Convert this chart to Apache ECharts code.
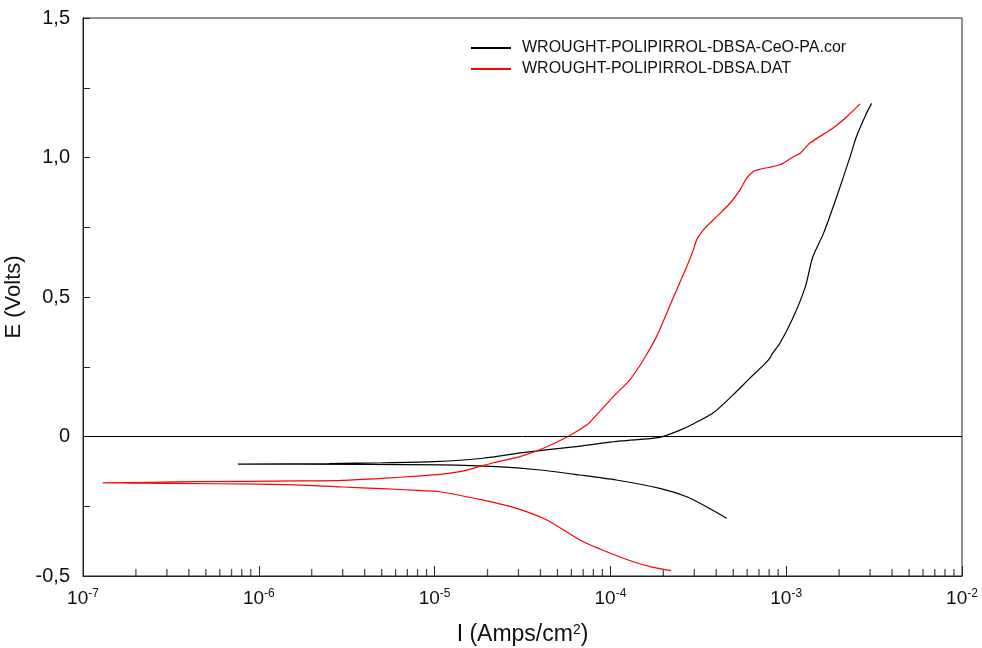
<!DOCTYPE html>
<html>
<head>
    <meta charset="utf-8">
    <script src="https://cdn.jsdelivr.net/npm/echarts@6/dist/echarts.min.js"></script>
</head>
<style>
    *{
        margin:0;
        padding:0;
    }
    body{
        background:#fff;
    }
</style>
<body>
<div id="main" style="width:982px;height:648px;"></div>
<script type="text/javascript">
    // curves: current (A/cm2) and potential (V), in scan order
    var nameBlack = 'WROUGHT-POLIPIRROL-DBSA-CeO-PA.cor';
    var currentBlack = [4.58e-4, 3.52e-4, 2.72e-4, 1.91e-4, 1.08e-4, 6.71e-5, 3.98e-5, 2.25e-5, 1.07e-5, 3.98e-6, 7.62e-7,
        2.51e-6, 5.0e-6, 1.0e-5, 1.89e-5, 3.18e-5, 6.17e-5, 1.15e-4, 1.91e-4, 2.49e-4, 2.96e-4, 3.85e-4, 5.0e-4,
        6.22e-4, 7.6e-4, 8.09e-4, 8.3e-4, 9.23e-4, 1.10e-3, 1.29e-3, 1.41e-3, 1.63e-3, 1.94e-3, 2.31e-3, 2.51e-3, 2.82e-3, 3.06e-3];
    var potentialBlack = [-0.293, -0.252, -0.216, -0.186, -0.156, -0.138, -0.120, -0.108, -0.102, -0.100, -0.099,
        -0.097, -0.094, -0.090, -0.078, -0.058, -0.037, -0.016, -0.003, 0.023, 0.045, 0.085, 0.150,
        0.209, 0.262, 0.282, 0.295, 0.335, 0.429, 0.540, 0.640, 0.728, 0.860, 1.003, 1.075, 1.150, 1.194];

    var nameRed = 'WROUGHT-POLIPIRROL-DBSA.DAT';
    var currentRed = [2.21e-4, 1.75e-4, 1.35e-4, 9.53e-5, 6.71e-5, 4.35e-5, 2.81e-5, 1.89e-5, 1.07e-5, 7.94e-6, 5.02e-6,
        3.01e-6, 1.95e-6, 1.0e-6, 3.16e-7, 1.30e-7,
        2.51e-7, 4.23e-7, 1.71e-6, 3.01e-6, 5.02e-6, 7.94e-6, 1.07e-5, 1.39e-5, 1.66e-5, 2.16e-5, 3.06e-5, 4.16e-5,
        5.77e-5, 7.33e-5, 8.0e-5, 1.04e-4, 1.29e-4, 1.54e-4, 1.83e-4, 2.09e-4, 2.38e-4, 2.72e-4, 2.96e-4, 3.09e-4,
        3.37e-4, 4.02e-4, 4.79e-4, 5.46e-4, 5.96e-4, 6.50e-4, 7.10e-4, 9.23e-4, 1.10e-3, 1.20e-3, 1.36e-3, 1.85e-3, 2.21e-3, 2.63e-3];
    var potentialRed = [-0.481, -0.469, -0.449, -0.413, -0.371, -0.299, -0.254, -0.228, -0.198, -0.193, -0.187,
        -0.181, -0.175, -0.171, -0.168, -0.166,
        -0.164, -0.162, -0.159, -0.157, -0.150, -0.142, -0.136, -0.126, -0.114, -0.094, -0.072, -0.042,
        0.001, 0.041, 0.065, 0.143, 0.203, 0.274, 0.358, 0.442, 0.525, 0.609, 0.668, 0.704,
        0.740, 0.788, 0.836, 0.884, 0.926, 0.950, 0.958, 0.974, 1.003, 1.015, 1.051, 1.106, 1.146, 1.192];

    // axis ranges
    var xMin = 1e-7, xMax = 1e-2;
    var yMin = -0.5, yMax = 1.5;

    var pairs = function (xs, ys) {
        var out = [];
        for (var i = 0; i < xs.length; i++) out.push([xs[i], ys[i]]);
        return out;
    };

    // minor ticks of the log axis (2..9 in every decade)
    var minorTicks = [];
    for (var d = -7; d < -2; d++) {
        for (var k = 2; k <= 9; k++) minorTicks.push([k * Math.pow(10, d), yMin]);
    }

    var font = 'Liberation Sans';
    var axisColor = '#222';

    var dom = document.getElementById('main');
    var myChart = echarts.init(dom);

    var option = {
        animation: false,
        backgroundColor: '#fff',
        grid: {
            left: 83,
            right: 20,
            top: 18,
            bottom: 72,
            outerBoundsMode: 'none',
            show: true,
            borderColor: axisColor,
            borderWidth: 1
        },
        legend: {
            left: 466,
            top: 34,
            orient: 'vertical',
            itemWidth: 40,
            itemHeight: 2,
            itemGap: 3,
            icon: 'rect',
            data: [nameBlack, nameRed],
            textStyle: {
                fontFamily: font,
                fontSize: 16,
                color: '#111',
                lineHeight: 18,
                padding: [0, 0, 0, 6]
            }
        },
        xAxis: {
            type: 'log',
            logBase: 10,
            min: xMin,
            max: xMax,
            name: '{a|I (Amps/cm}{s|2}{a|)}',
            nameLocation: 'middle',
            nameGap: 47,
            nameTextStyle: {
                rich: {
                    a: { fontFamily: font, fontSize: 23, color: '#111' },
                    s: { fontFamily: font, fontSize: 14, color: '#111', verticalAlign: 'bottom', padding: [0, 0, 10, 0] }
                }
            },
            axisLine: { onZero: false, lineStyle: { color: axisColor, width: 1 } },
            axisTick: { inside: true, length: 10, lineStyle: { color: axisColor } },
            splitLine: { show: false },
            axisLabel: {
                margin: 12,
                formatter: function (v) {
                    return '10{s|' + Math.round(Math.log10(v)) + '}';
                },
                fontFamily: font,
                fontSize: 19,
                color: '#111',
                rich: {
                    s: { fontFamily: font, fontSize: 12, color: '#111', verticalAlign: 'bottom', padding: [0, 0, 10, 0] }
                }
            }
        },
        yAxis: {
            type: 'value',
            min: yMin,
            max: yMax,
            interval: 0.25,
            name: 'E (Volts)',
            nameLocation: 'middle',
            nameGap: 49,
            nameTextStyle: { fontFamily: font, fontSize: 22, color: '#111' },
            axisLine: { onZero: false, lineStyle: { color: axisColor, width: 1 } },
            axisTick: { inside: true, length: 7, lineStyle: { color: axisColor } },
            splitLine: { show: false },
            axisLabel: {
                margin: 13,
                fontFamily: font,
                fontSize: 20,
                color: '#111',
                formatter: function (v) {
                    if (Math.abs(v * 2 - Math.round(v * 2)) > 1e-9) return '';
                    if (Math.abs(v) < 1e-9) return '0';
                    return v.toFixed(1).replace('.', ',');
                }
            }
        },
        series: [
            {
                name: nameBlack,
                type: 'line',
                showSymbol: false,
                symbol: 'none',
                smooth: 0.25,
                color: '#000',
                lineStyle: { color: '#000', width: 1.2 },
                data: pairs(currentBlack, potentialBlack),
                markLine: {
                    silent: true,
                    symbol: 'none',
                    label: { show: false },
                    lineStyle: { color: '#000', width: 1, type: 'solid' },
                    data: [{ yAxis: 0 }]
                }
            },
            {
                name: nameRed,
                type: 'line',
                showSymbol: false,
                symbol: 'none',
                smooth: 0.25,
                color: '#ff0000',
                lineStyle: { color: '#ff0000', width: 1.2 },
                data: pairs(currentRed, potentialRed)
            },
            {
                name: 'minor',
                type: 'scatter',
                silent: true,
                symbol: 'rect',
                symbolSize: [1.3, 7],
                symbolOffset: [0, -3.5],
                itemStyle: { color: axisColor },
                data: minorTicks
            }
        ]
    };

    myChart.setOption(option);
</script>
</body>
</html>
